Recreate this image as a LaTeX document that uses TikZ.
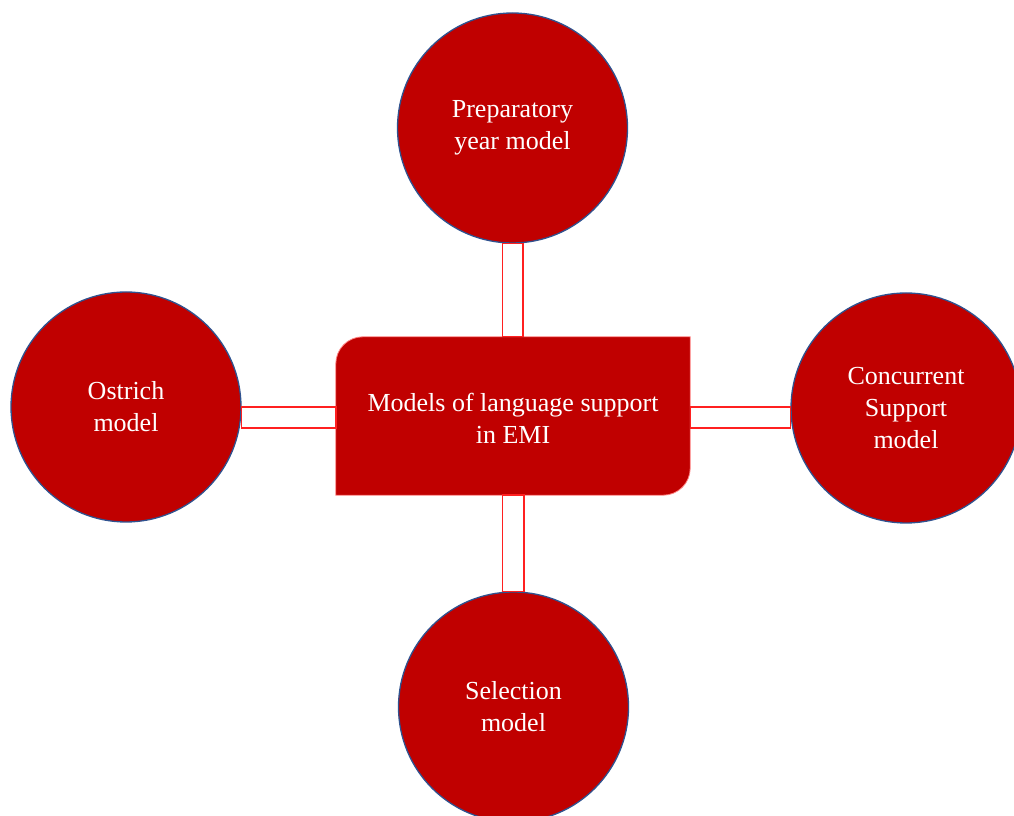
\documentclass[tikz,border=0pt]{standalone}
\usepackage{fontspec}
\setmainfont{Liberation Serif}
\definecolor{fillred}{HTML}{C00000}
\definecolor{rimblue}{HTML}{2F528F}
\definecolor{linkred}{HTML}{FF2020}
\begin{document}
\begin{tikzpicture}[x=1pt,y=1pt,
  txt/.style={font=\fontsize{26}{32}\selectfont, text=white, align=center},
  model/.style={circle, fill=fillred, draw=rimblue, line width=1.3pt, minimum size=230pt, inner sep=0pt, txt},
  hub/.style={rectangle, minimum width=354pt, minimum height=158pt, inner sep=0pt, txt},
  hubshape/.style={fill=fillred, draw=linkred!55, line width=0.8pt},
  link/.style={fill=white, draw=linkred, line width=1.4pt}]
\useasboundingbox (0,0) rectangle (1014,816);
\node[hub] (box) at (513,400) {};
\path[hubshape] (box.south west) -- ([yshift=-27]box.north west)
  arc[start angle=180, end angle=90, radius=27] -- (box.north east)
  -- ([yshift=27]box.south east) arc[start angle=0, end angle=-90, radius=27] -- cycle;
\node[hub] (boxtext) at ([yshift=-2]box.center) {Models of language support\\in EMI};
\node[model] (top) at (512.5,688) {\raisebox{-4pt}{\parbox{200pt}{\centering Preparatory\\year model}}};
\node[model] (left) at (126,409) {Ostrich\\model};
\node[model] (right) at (906,408) {Concurrent\\Support\\model};
\node[model] (bottom) at (513.5,109) {Selection\\model};
\draw[link] ([xshift=-10.5]box.north) rectangle ([xshift=10.5]top.south);
\draw[link] ([xshift=-10.5]box.south) rectangle ([xshift=10.5]bottom.north);
\draw[link] ([yshift=9]box.west) rectangle ([yshift=-21]left.east);
\draw[link] ([yshift=9]box.east) rectangle ([yshift=-20]right.west);
\end{tikzpicture}
\end{document}
